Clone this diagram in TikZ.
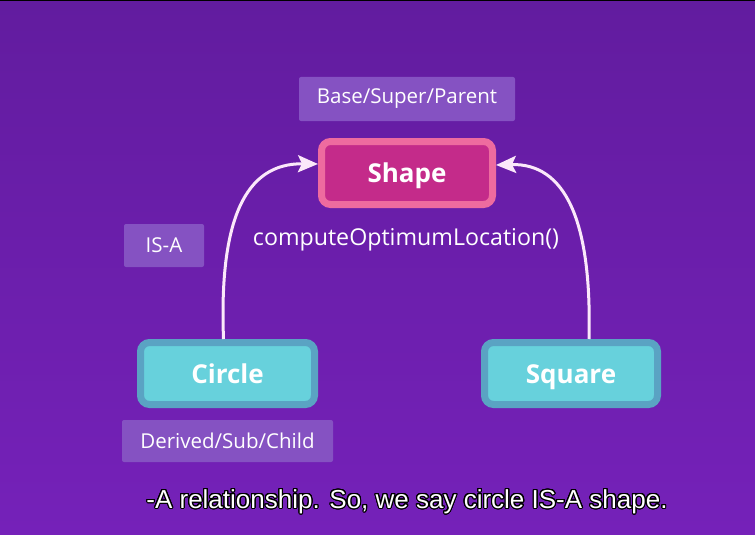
\documentclass[tikz,border=0pt]{standalone}
\usepackage{fontspec}
\setmainfont{Open Sans}
\newfontfamily\subfont{Liberation Sans}
\usepackage{contour}
\contourlength{1.1pt}
\contournumber{24}
\usetikzlibrary{arrows.meta}
\definecolor{bgtop}{HTML}{621C9F}
\definecolor{bgbot}{HTML}{7521B9}
\definecolor{lblfill}{HTML}{8552C2}
\definecolor{shapefill}{HTML}{C42B8A}
\definecolor{shapeborder}{HTML}{EE6B9F}
\definecolor{cfill}{HTML}{67D1DC}
\definecolor{cborder}{HTML}{5AA3C3}
\definecolor{arrowcol}{HTML}{FBE8FA}
\tikzset{
  lbl/.style={fill=lblfill, text=white, rounded corners=2pt, inner sep=0pt, font=\fontsize{20.5}{24}\selectfont},
  classbox/.style={line width=7pt, rounded corners=9pt, inner sep=0pt, text=white, font=\bfseries\fontsize{26}{30}\selectfont, minimum height=62pt, text height=19pt, text depth=0pt},
  isa/.style={draw=arrowcol, line width=3pt, -{Stealth[length=20pt,width=17pt,inset=4pt]}}
}
\begin{document}
\begin{tikzpicture}[x=1pt,y=-1pt]
\useasboundingbox (0,0) rectangle (755,535);
\shade[top color=bgtop, bottom color=bgbot] (0,0) rectangle (755,535);
\fill[black] (0,0) rectangle (755,1.5);

\node[lbl, minimum width=216pt, minimum height=44pt] (base) at (407,99) {Base/Super/Parent};
\node[classbox, draw=shapeborder, fill=shapefill, minimum width=171pt, minimum height=63pt] (shape) at (407,173) {Shape};
\node[text=white, font=\fontsize{23.2}{26}\selectfont, inner sep=0pt] (method) at (406,240) {computeOptimumLocation()};
\node[lbl, minimum width=80pt, minimum height=43pt] (isa) at (164,245.5) {IS-A};
\node[classbox, draw=cborder, fill=cfill, minimum width=174pt] (circle) at (227.5,373.5) {Circle};
\node[classbox, draw=cborder, fill=cfill, minimum width=173pt] (square) at (571,373.5) {Square};
\node[lbl, minimum width=211pt, minimum height=42pt] (derived) at (227.5,441) {Derived/Sub/Child};

\draw[isa] ([xshift=-4pt]circle.north) .. controls (219,220) and (245,163) .. ([yshift=9pt]shape.west);
\draw[isa] ([xshift=18pt]square.north) .. controls (592,220) and (565,163) .. ([yshift=8pt]shape.east);

\node[text=white, font=\subfont\fontsize{26}{29}\selectfont, inner sep=0pt] (sub) at (407,502) {\contour{black}{-A relationship. So, we say circle IS-A shape.}};
\end{tikzpicture}
\end{document}
